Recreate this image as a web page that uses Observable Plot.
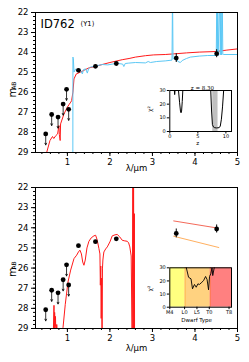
<!DOCTYPE html>
<html><head><meta charset="utf-8">
<script src="https://cdn.jsdelivr.net/npm/d3@7"></script>
<script src="https://cdn.jsdelivr.net/npm/@observablehq/plot@0.6"></script>
<style>
html,body{margin:0;padding:0;background:#fff;}
#wrap{position:relative;width:249px;height:362px;overflow:hidden;font-family:"DejaVu Sans";}
</style></head><body><div id="wrap"></div>
<script>
// ---------- data ----------
// photometry: upper limits
const ulX = [0.49, 0.63, 0.78, 0.90, 0.98, 1.03];
const ulY = [28.07, 27.10, 27.23, 26.58, 25.84, 26.84];
// photometry: detections
const detX = [1.26, 1.66, 2.15, 3.56, 4.51];
const detY = [24.89, 24.69, 24.55, 24.28, 24.06];
const detE = [0.05, 0.05, 0.05, 0.22, 0.2];
const ulLen = 0.55;

// top panel: galaxy template (red)
const galX = [0.50, 0.515, 0.59, 0.65, 0.68, 0.73, 0.77, 0.80, 0.81, 0.83, 0.84, 0.92, 1.00, 1.04, 1.08, 1.10, 1.13, 1.155, 1.21, 1.31, 1.40, 1.506, 1.65, 1.82, 2.00, 2.29, 2.45, 2.60, 2.835, 3.03, 3.30, 3.56, 3.80, 4.10, 4.50, 4.75, 5.00];
const galY = [29.6, 28.98, 28.40, 28.20, 28.30, 28.15, 28.07, 27.65, 28.10, 28.40, 27.57, 27.07, 26.73, 26.60, 26.48, 26.40, 25.98, 25.32, 25.07, 24.98, 24.88, 24.77, 24.70, 24.60, 24.50, 24.36, 24.30, 24.23, 24.16, 24.12, 24.10, 24.06, 24.02, 23.98, 23.95, 23.88, 23.82];

// top panel: second template (cyan)
const cyX = [1.128, 1.13, 1.14, 1.155, 1.195, 1.23, 1.272, 1.30, 1.352, 1.38, 1.43, 1.469, 1.50, 1.546, 1.65, 1.82, 1.95, 2.055, 2.20, 2.30, 2.327, 2.36, 2.444, 2.60, 2.836, 2.90, 2.953, 3.10, 3.30, 3.46, 3.472, 3.484, 3.52, 3.563, 3.60, 3.657, 3.70, 3.80, 3.891, 4.10, 4.30, 4.50, 4.515, 4.525, 4.535, 4.545, 4.585, 4.595, 4.61, 4.625, 4.64, 4.655, 4.67, 4.80, 5.00];
const cyY = [30, 24.23, 24.30, 24.98, 24.82, 24.90, 24.85, 24.85, 25.07, 24.85, 24.82, 25.03, 24.80, 24.73, 24.68, 24.60, 24.62, 24.58, 24.55, 24.58, 24.70, 24.55, 24.53, 24.50, 24.52, 24.45, 24.50, 24.45, 24.42, 24.38, 21, 24.30, 24.32, 24.30, 24.45, 24.50, 24.40, 24.30, 24.23, 24.18, 24.15, 24.15, 21, 24.15, 21, 24.15, 21, 24.12, 21, 24.12, 21, 24.10, 24.10, 24.10, 24.10];

// top inset: chi2 vs redshift
const zGrid = [0.0, 0.80, 0.87, 0.94, 1.40, 1.55, 1.75, 1.90, 2.00, 2.10, 2.22, 2.32, 2.45, 7.00, 7.30, 7.45, 7.60, 7.80, 8.00, 8.30, 8.80, 9.00, 9.20, 9.40, 9.60, 9.80, 11.0];
const zChi = [36, 30.5, 27.0, 30.5, 36, 30, 21, 15, 13.7, 15, 22, 30, 36, 36, 30, 15, 5, 3.2, 2.8, 2.6, 2.8, 4, 9, 18, 30, 36, 36];
const zBest = 8.30;
const zBand = [7.66, 8.60];

// bottom panel: brown dwarf template (red)
const bdX = [0.66, 0.685, 0.69, 0.70, 0.71, 0.72, 0.73, 0.75, 0.77, 0.80, 0.87, 0.897, 0.95, 1.014, 1.077, 1.155, 1.218, 1.26, 1.295, 1.33, 1.36, 1.389, 1.42, 1.46, 1.506, 1.56, 1.624, 1.664, 1.70, 1.741, 1.765, 1.775, 1.785, 1.795, 1.805, 1.815, 1.825, 1.835, 1.845, 1.858, 1.90, 1.938, 2.00, 2.055, 2.12, 2.172, 2.23, 2.29, 2.35, 2.407, 2.44, 2.468, 2.50, 2.524, 2.540, 2.548, 2.556, 2.565, 2.575, 2.58, 2.60];
const bdY = [30, 27.85, 29.3, 28.2, 28.9, 28.4, 29.4, 28.8, 29.5, 30.5, 30, 28.96, 27.8, 26.69, 26.10, 25.53, 25.36, 25.20, 25.11, 25.30, 25.70, 25.86, 25.60, 25.00, 24.67, 24.50, 24.40, 24.37, 24.60, 25.03, 25.30, 26.85, 25.90, 28.50, 26.50, 29.50, 26.00, 25.60, 25.40, 25.20, 25.05, 24.95, 24.70, 24.40, 24.35, 24.33, 24.45, 24.62, 24.65, 24.67, 24.75, 24.95, 25.40, 30, 21, 30, 21, 30, 23.3, 30, 30];

// bottom panel: colour lines
const lineRedX = [3.50, 4.52];
const lineRedY = [23.66, 24.01];
const lineOrX = [3.50, 4.56];
const lineOrY = [24.42, 24.98];

// bottom inset: chi2 vs dwarf type
const typeIdx = [6.3, 6.7, 7.6, 8.6, 9.2, 10.0, 10.7, 11.4, 12.0, 13.0, 13.7, 14.5, 15.1, 15.7, 16.1, 16.6, 17.1, 17.4, 18.0, 18.5];
const typeChi = [36, 30, 22.8, 21.6, 14.0, 17.3, 15.2, 17.8, 17.3, 19.0, 20.3, 23.4, 21.1, 13.2, 23.4, 25.4, 30, 24.1, 30, 36];
const typeLabels = ["M4", "L0", "L5", "T0", "T8"];
const typePos = [0, 6, 11, 16, 24];
const bandStart = [0, 6.2, 16.4];
const bandEnd = [6.2, 16.4, 25];
const bandColor = ["#ffff80", "#ffd280", "#ff8080"];

const xTicks = [1, 2, 3, 4, 5];
const yTicks = [22, 23, 24, 25, 26, 27, 28, 29];

// ---------- build tables ----------
const ul = ulX.map((x, i) => ({x, y: ulY[i]}));
const det = detX.map((x, i) => ({x, y: detY[i], e: detE[i]}));
const gal = galX.map((x, i) => ({x, y: galY[i]}));
const cy = cyX.map((x, i) => ({x, y: cyY[i]}));
const bd = bdX.map((x, i) => ({x, y: bdY[i]}));
const lRed = lineRedX.map((x, i) => ({x, y: lineRedY[i]}));
const lOr = lineOrX.map((x, i) => ({x, y: lineOrY[i]}));
const zc = zGrid.map((x, i) => ({x, y: zChi[i]}));
const tc = typeIdx.map((x, i) => ({x, y: typeChi[i]}));
const bands = bandStart.map((s, i) => ({s, e: bandEnd[i], c: bandColor[i]}));

const xMinor = d3.range(0.4, 5.001, 0.2).map(v => +v.toFixed(2));
const yMinor = d3.range(22, 29.001, 0.2).map(v => +v.toFixed(2));
const intFmt = d => String(Math.round(d));

const wrap = document.getElementById("wrap");
function place(el, left, topPx) {
  el.style.position = "absolute";
  el.style.left = left + "px";
  el.style.top = topPx + "px";
  wrap.appendChild(el);
}
const FONT = "DejaVu Sans";
const mainStyle = {fontFamily: FONT, fontSize: "8.5px", color: "black", background: "transparent", overflow: "visible"};

function photMarks() {
  return [
    Plot.arrow(ul, {x1: "x", y1: "y", x2: "x", y2: d => d.y + ulLen, stroke: "black", strokeWidth: 0.8, headLength: 3.5, headAngle: 55}),
    Plot.ruleX(det, {x: "x", y1: d => d.y - d.e, y2: d => d.y + d.e, stroke: "black", strokeWidth: 1}),
    Plot.dot(ul, {x: "x", y: "y", r: 2.4, fill: "black"}),
    Plot.dot(det, {x: "x", y: "y", r: 2.4, fill: "black"})
  ];
}
function axesMarks() {
  return [
    Plot.axisX({ticks: xTicks, tickSize: 4, tickPadding: 2, fontSize: 8.5, tickFormat: intFmt, label: null}),
    Plot.axisX({ticks: xMinor, tickSize: 2, tickFormat: () => "", label: null}),
    Plot.axisY({ticks: yTicks, tickSize: 4, tickPadding: 3, fontSize: 8.5, tickFormat: intFmt, label: null}),
    Plot.axisY({ticks: yMinor, tickSize: 2, tickFormat: () => "", label: null}),
    Plot.frame({stroke: "black", strokeWidth: 1})
  ];
}
function labelMarks(mDy, abDy, lamDy) {
  return [
    Plot.text(["m"], {frameAnchor: "left", dx: -22.5, dy: mDy, rotate: -90, fontSize: 10, text: d => d}),
    Plot.text(["AB"], {frameAnchor: "left", dx: -21.2, dy: abDy, rotate: -90, fontSize: 6, text: d => d}),
    Plot.text(["λ/μm"], {frameAnchor: "bottom", dy: lamDy, fontSize: 8.5, text: d => d})
  ];
}

// ---------- top main panel ----------
const topPlot = Plot.plot({
  width: 249, height: 180,
  marginLeft: 35, marginRight: 12, marginTop: 12, marginBottom: 28,
  style: mainStyle,
  x: {domain: [0.25, 5]},
  y: {domain: [22, 29], reverse: true},
  marks: [
    Plot.line(gal, {x: "x", y: "y", stroke: "#ff1a1a", strokeWidth: 1, clip: true}),
    Plot.line(cy, {x: "x", y: "y", stroke: "#5cc8f5", strokeWidth: 1, clip: true}),
    ...photMarks(),
    ...axesMarks(),
    ...labelMarks(15, 7.3, 18.5),
    Plot.text(["ID762"], {frameAnchor: "top-left", dx: 5, dy: 7.5, fontSize: 11.5, textAnchor: "start", text: d => d}),
    Plot.text(["(Y1)"], {frameAnchor: "top-left", dx: 45, dy: 9, fontSize: 6.8, textAnchor: "start", text: d => d})
  ]
});
place(topPlot, 0, 0);

// ---------- bottom main panel ----------
const botPlot = Plot.plot({
  width: 249, height: 187,
  marginLeft: 35, marginRight: 12, marginTop: 12, marginBottom: 34,
  style: mainStyle,
  x: {domain: [0.25, 5]},
  y: {domain: [22, 29], reverse: true},
  marks: [
    Plot.line(bd, {x: "x", y: "y", stroke: "#ff1a1a", strokeWidth: 1, clip: true}),
    Plot.line(lRed, {x: "x", y: "y", stroke: "#f46a5a", strokeWidth: 1}),
    Plot.line(lOr, {x: "x", y: "y", stroke: "#ffb060", strokeWidth: 1}),
    ...photMarks(),
    ...axesMarks(),
    ...labelMarks(19, 11.5, 22.5)
  ]
});
place(botPlot, 0, 175);

// ---------- top inset ----------
const insetStyle = {fontFamily: FONT, fontSize: "5px", color: "black", background: "transparent", overflow: "visible"};
const ins1 = Plot.plot({
  width: 95, height: 70,
  marginLeft: 29.3, marginRight: 4, marginTop: 12, marginBottom: 17,
  style: insetStyle,
  x: {domain: [0, 11]},
  y: {domain: [0, 30]},
  marks: [
    Plot.rectX([zBand], {x1: d => d[0], x2: d => d[1], y1: 0, y2: 30, fill: "#c0c0c0"}),
    Plot.line(zc, {x: "x", y: "y", stroke: "black", strokeWidth: 1, clip: true}),
    Plot.axisX({ticks: [0, 5, 10], tickSize: 2.5, tickPadding: 0.5, fontSize: 5, tickFormat: intFmt, label: null}),
    Plot.axisY({ticks: [0, 10, 20, 30], tickSize: 2.5, tickPadding: 1.5, fontSize: 5, tickFormat: intFmt, label: null}),
    Plot.frame({stroke: "black", strokeWidth: 1}),
    Plot.text([`z = ${zBest.toFixed(2)}`], {frameAnchor: "top-right", dx: -17.5, dy: -4, fontSize: 5.5, text: d => d}),
    Plot.text(["z"], {frameAnchor: "bottom", dx: -3, dy: 13, fontSize: 5.5, text: d => d}),
    Plot.text(["χ²"], {frameAnchor: "left", dx: -19.3, dy: 1, rotate: -90, fontSize: 6, text: d => d})
  ]
});
place(ins1, 140, 78);

// ---------- bottom inset ----------
const ins2 = Plot.plot({
  width: 95, height: 72,
  marginLeft: 29.3, marginRight: 4, marginTop: 12.3, marginBottom: 20.3,
  style: insetStyle,
  x: {domain: [0, 25]},
  y: {domain: [0, 30]},
  marks: [
    Plot.rectX(bands, {x1: "s", x2: "e", y1: 0, y2: 30, fill: "c"}),
    Plot.ruleX([bandEnd[0]], {stroke: "#ffb84a", strokeWidth: 1}),
    Plot.ruleX([bandEnd[1]], {stroke: "#ff7a50", strokeWidth: 1}),
    Plot.line(tc, {x: "x", y: "y", stroke: "black", strokeWidth: 0.9, clip: true}),
    Plot.axisX({ticks: typePos, tickFormat: d => typeLabels[typePos.indexOf(d)], tickSize: 2.5, tickPadding: 0.5, fontSize: 5, label: null}),
    Plot.axisY({ticks: [0, 10, 20, 30], tickSize: 2.5, tickPadding: 1.5, fontSize: 5, tickFormat: intFmt, label: null}),
    Plot.frame({stroke: "black", strokeWidth: 1}),
    Plot.text(["Dwarf Type"], {frameAnchor: "bottom", dx: -4, dy: 14.3, fontSize: 5.5, text: d => d}),
    Plot.text(["χ²"], {frameAnchor: "left", dx: -19.3, dy: 4, rotate: -90, fontSize: 6, text: d => d})
  ]
});
place(ins2, 140, 255);
</script></body></html>
